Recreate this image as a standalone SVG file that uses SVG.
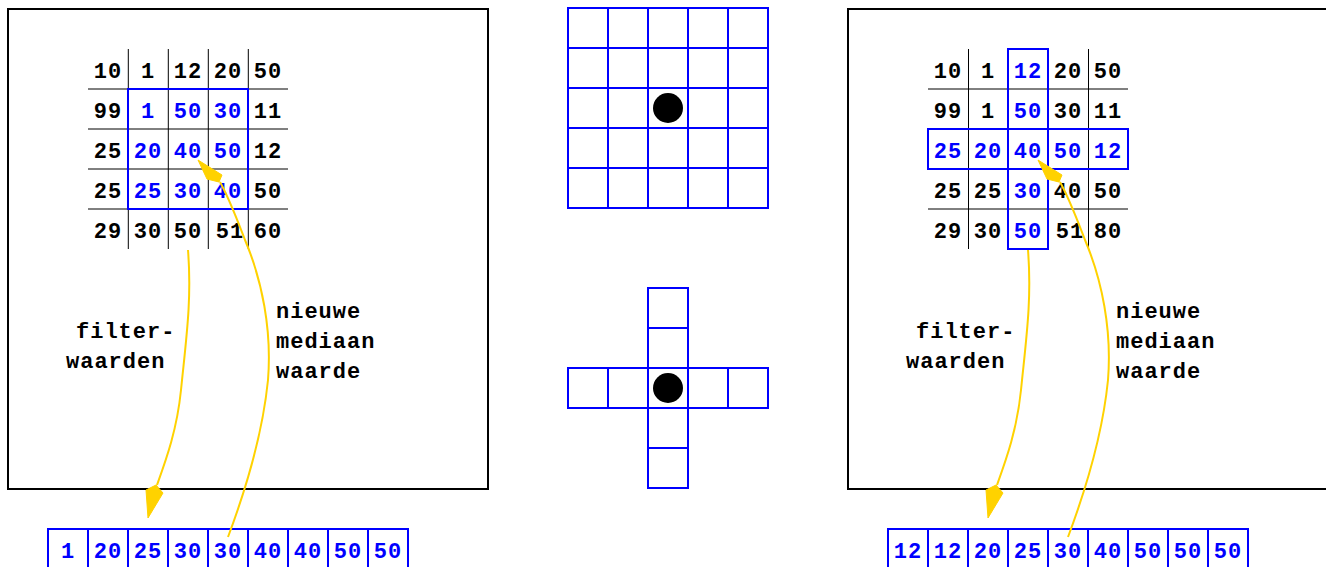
<svg xmlns="http://www.w3.org/2000/svg" width="1326" height="567" viewBox="0 0 1326 567">
<style>
text{font-family:"Liberation Mono","Courier New",monospace;font-weight:bold;font-size:22px;letter-spacing:1px}
.c{text-anchor:middle}
.k{fill:#000}
.b{fill:#0000ff}
.frame{fill:none;stroke:#000;stroke-width:2}
.gl{stroke:#000;stroke-width:1}
.blue{fill:none;stroke:#0000ff;stroke-width:2}
.arr{fill:none;stroke:#ffd200;stroke-width:2}
.head{fill:#ffd200;stroke:#ffd200;stroke-width:1;stroke-linejoin:round}
</style>
<rect width="1326" height="567" fill="#fff"/>

<g id="left-panel">
<rect class="frame" x="8" y="9" width="480" height="480"/>
<g id="left-grid">
<line class="gl" x1="128.3" y1="49" x2="128.3" y2="249"/>
<line class="gl" x1="168.3" y1="49" x2="168.3" y2="249"/>
<line class="gl" x1="208.3" y1="49" x2="208.3" y2="249"/>
<line class="gl" x1="248.3" y1="49" x2="248.3" y2="249"/>
<line class="gl" x1="88" y1="89" x2="288" y2="89"/>
<line class="gl" x1="88" y1="129" x2="288" y2="129"/>
<line class="gl" x1="88" y1="169" x2="288" y2="169"/>
<line class="gl" x1="88" y1="209" x2="288" y2="209"/>
<rect class="blue" x="128" y="89" width="120" height="120"/>
<text class="c k" x="108" y="78">10</text><text class="c k" x="148" y="78">1</text><text class="c k" x="188" y="78">12</text><text class="c k" x="228" y="78">20</text><text class="c k" x="268" y="78">50</text>
<text class="c k" x="108" y="118">99</text><text class="c b" x="148" y="118">1</text><text class="c b" x="188" y="118">50</text><text class="c b" x="228" y="118">30</text><text class="c k" x="268" y="118">11</text>
<text class="c k" x="108" y="158">25</text><text class="c b" x="148" y="158">20</text><text class="c b" x="188" y="158">40</text><text class="c b" x="228" y="158">50</text><text class="c k" x="268" y="158">12</text>
<text class="c k" x="108" y="198">25</text><text class="c b" x="148" y="198">25</text><text class="c b" x="188" y="198">30</text><text class="c b" x="228" y="198">40</text><text class="c k" x="268" y="198">50</text>
<text class="c k" x="108" y="238">29</text><text class="c k" x="148" y="238">30</text><text class="c k" x="188" y="238">50</text><text class="c k" x="230" y="238">51</text><text class="c k" x="268" y="238">60</text>
</g>
<g id="left-labels">
<text class="k" x="76" y="338">filter-</text>
<text class="k" x="66" y="368">waarden</text>
<text class="k" x="276" y="318">nieuwe</text>
<text class="k" x="276" y="348">mediaan</text>
<text class="k" x="276" y="378">waarde</text>
</g>
</g>

<g id="left-array">
<rect class="blue" x="48" y="529" width="360" height="60"/>
<line class="blue" x1="88" y1="529" x2="88" y2="567"/>
<line class="blue" x1="128" y1="529" x2="128" y2="567"/>
<line class="blue" x1="168" y1="529" x2="168" y2="567"/>
<line class="blue" x1="208" y1="529" x2="208" y2="567"/>
<line class="blue" x1="248" y1="529" x2="248" y2="567"/>
<line class="blue" x1="288" y1="529" x2="288" y2="567"/>
<line class="blue" x1="328" y1="529" x2="328" y2="567"/>
<line class="blue" x1="368" y1="529" x2="368" y2="567"/>
<text class="c b" x="68" y="558">1</text><text class="c b" x="108" y="558">20</text><text class="c b" x="148" y="558">25</text><text class="c b" x="188" y="558">30</text><text class="c b" x="228" y="558">30</text><text class="c b" x="268" y="558">40</text><text class="c b" x="308" y="558">40</text><text class="c b" x="348" y="558">50</text><text class="c b" x="388" y="558">50</text>
</g>

<g id="square-kernel">
<rect class="blue" x="568" y="8" width="200" height="200"/>
<line class="blue" x1="608" y1="8" x2="608" y2="208"/>
<line class="blue" x1="648" y1="8" x2="648" y2="208"/>
<line class="blue" x1="688" y1="8" x2="688" y2="208"/>
<line class="blue" x1="728" y1="8" x2="728" y2="208"/>
<line class="blue" x1="568" y1="48" x2="768" y2="48"/>
<line class="blue" x1="568" y1="88" x2="768" y2="88"/>
<line class="blue" x1="568" y1="128" x2="768" y2="128"/>
<line class="blue" x1="568" y1="168" x2="768" y2="168"/>
<circle cx="668" cy="108" r="15" fill="#000"/>
</g>

<g id="cross-kernel">
<rect class="blue" x="648" y="288" width="40" height="200"/>
<rect class="blue" x="568" y="368" width="200" height="40"/>
<line class="blue" x1="648" y1="328" x2="688" y2="328"/>
<line class="blue" x1="648" y1="448" x2="688" y2="448"/>
<line class="blue" x1="608" y1="368" x2="608" y2="408"/>
<line class="blue" x1="728" y1="368" x2="728" y2="408"/>
<circle cx="668" cy="388" r="15" fill="#000"/>
</g>

<g id="right-panel">
<path class="frame" d="M1328,9 H848 V489 H1328"/>
<g id="right-grid">
<line class="gl" x1="968.5" y1="49" x2="968.5" y2="249"/>
<line class="gl" x1="1008.5" y1="49" x2="1008.5" y2="249"/>
<line class="gl" x1="1048.5" y1="49" x2="1048.5" y2="249"/>
<line class="gl" x1="1088.5" y1="49" x2="1088.5" y2="249"/>
<line class="gl" x1="928" y1="89" x2="1128" y2="89"/>
<line class="gl" x1="928" y1="129" x2="1128" y2="129"/>
<line class="gl" x1="928" y1="169" x2="1128" y2="169"/>
<line class="gl" x1="928" y1="209" x2="1128" y2="209"/>
<rect class="blue" x="1008" y="49" width="40" height="200"/>
<rect class="blue" x="928" y="129" width="200" height="40"/>
<text class="c k" x="948" y="78">10</text><text class="c k" x="988" y="78">1</text><text class="c b" x="1028" y="78">12</text><text class="c k" x="1068" y="78">20</text><text class="c k" x="1108" y="78">50</text>
<text class="c k" x="948" y="118">99</text><text class="c k" x="988" y="118">1</text><text class="c b" x="1028" y="118">50</text><text class="c k" x="1068" y="118">30</text><text class="c k" x="1108" y="118">11</text>
<text class="c b" x="948" y="158">25</text><text class="c b" x="988" y="158">20</text><text class="c b" x="1028" y="158">40</text><text class="c b" x="1068" y="158">50</text><text class="c b" x="1108" y="158">12</text>
<text class="c k" x="948" y="198">25</text><text class="c k" x="988" y="198">25</text><text class="c b" x="1028" y="198">30</text><text class="c k" x="1068" y="198">40</text><text class="c k" x="1108" y="198">50</text>
<text class="c k" x="948" y="238">29</text><text class="c k" x="988" y="238">30</text><text class="c b" x="1028" y="238">50</text><text class="c k" x="1070" y="238">51</text><text class="c k" x="1108" y="238">80</text>
</g>
<g id="right-labels">
<text class="k" x="916" y="338">filter-</text>
<text class="k" x="906" y="368">waarden</text>
<text class="k" x="1116" y="318">nieuwe</text>
<text class="k" x="1116" y="348">mediaan</text>
<text class="k" x="1116" y="378">waarde</text>
</g>
</g>

<g id="right-array">
<rect class="blue" x="888" y="529" width="360" height="60"/>
<line class="blue" x1="928" y1="529" x2="928" y2="567"/>
<line class="blue" x1="968" y1="529" x2="968" y2="567"/>
<line class="blue" x1="1008" y1="529" x2="1008" y2="567"/>
<line class="blue" x1="1048" y1="529" x2="1048" y2="567"/>
<line class="blue" x1="1088" y1="529" x2="1088" y2="567"/>
<line class="blue" x1="1128" y1="529" x2="1128" y2="567"/>
<line class="blue" x1="1168" y1="529" x2="1168" y2="567"/>
<line class="blue" x1="1208" y1="529" x2="1208" y2="567"/>
<text class="c b" x="908" y="558">12</text><text class="c b" x="948" y="558">12</text><text class="c b" x="988" y="558">20</text><text class="c b" x="1028" y="558">25</text><text class="c b" x="1068" y="558">30</text><text class="c b" x="1108" y="558">40</text><text class="c b" x="1148" y="558">50</text><text class="c b" x="1188" y="558">50</text><text class="c b" x="1228" y="558">50</text>
</g>

<g id="connectors">
<path class="arr" d="M188,250 C192,300 186,340 181,390 C177,430 166,460 157,485"/>
<polygon class="head" points="148,518 146,490 156,485 163,493"/>
<path class="arr" d="M228,537 C240,505 262,440 268,380 C272,330 262,280 245,240 C238,222 230,200 220,182"/>
<polygon class="head" points="198,160 222,175 219,182 207,179"/>
<path class="arr" d="M1028,250 C1032,300 1026,340 1021,390 C1017,430 1006,460 997,485"/>
<polygon class="head" points="988,518 986,490 996,485 1003,493"/>
<path class="arr" d="M1068,537 C1080,505 1102,440 1108,380 C1112,330 1102,280 1085,240 C1078,222 1070,200 1060,182"/>
<polygon class="head" points="1038,160 1062,175 1059,182 1047,179"/>
</g>
</svg>
